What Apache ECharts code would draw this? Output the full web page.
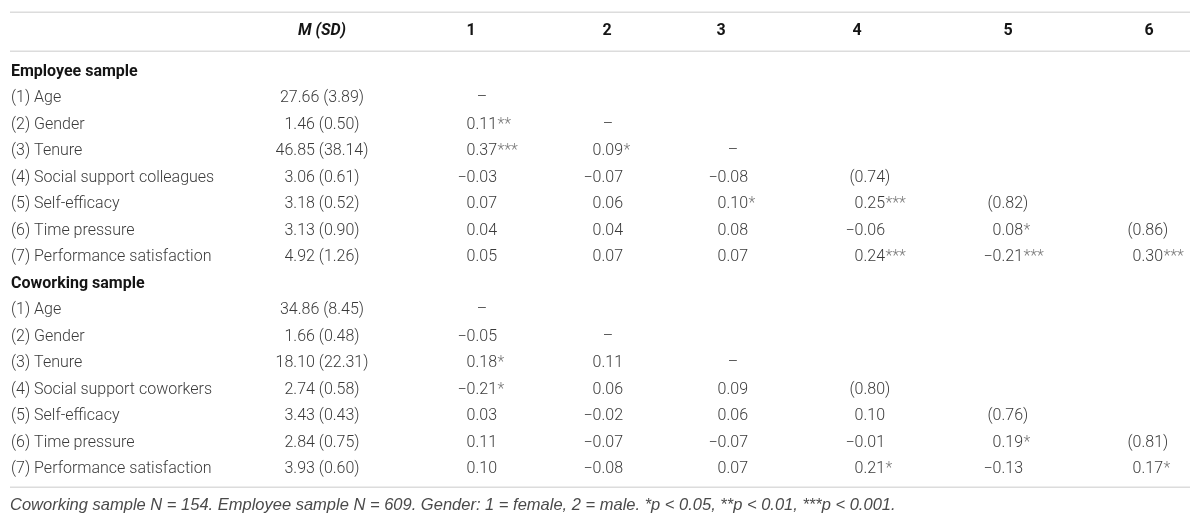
<!DOCTYPE html>
<html>
<head>
<meta charset="utf-8">
<script src="https://cdn.jsdelivr.net/npm/echarts@6/dist/echarts.min.js"></script>
<style>
html, body { margin: 0; padding: 0; background: #fff; }
#main { width: 1200px; height: 523px; }
</style>
</head>
<body>
<div id="main"></div>
<script>
var headers = ['M (SD)', '1', '2', '3', '4', '5', '6'];

var employeeLabels = ['(1) Age', '(2) Gender', '(3) Tenure', '(4) Social support colleagues', '(5) Self-efficacy', '(6) Time pressure', '(7) Performance satisfaction'];
var employeeMeans = [27.66, 1.46, 46.85, 3.06, 3.18, 3.13, 4.92];
var employeeSDs = [3.89, 0.50, 38.14, 0.61, 0.52, 0.90, 1.26];
var employeeCorr = [
    ['–'],
    ['0.11**', '–'],
    ['0.37***', '0.09*', '–'],
    ['−0.03', '−0.07', '−0.08', '(0.74)'],
    ['0.07', '0.06', '0.10*', '0.25***', '(0.82)'],
    ['0.04', '0.04', '0.08', '−0.06', '0.08*', '(0.86)'],
    ['0.05', '0.07', '0.07', '0.24***', '−0.21***', '0.30***']
];

var coworkingLabels = ['(1) Age', '(2) Gender', '(3) Tenure', '(4) Social support coworkers', '(5) Self-efficacy', '(6) Time pressure', '(7) Performance satisfaction'];
var coworkingMeans = [34.86, 1.66, 18.10, 2.74, 3.43, 2.84, 3.93];
var coworkingSDs = [8.45, 0.48, 22.31, 0.58, 0.43, 0.75, 0.60];
var coworkingCorr = [
    ['–'],
    ['−0.05', '–'],
    ['0.18*', '0.11', '–'],
    ['−0.21*', '0.06', '0.09', '(0.80)'],
    ['0.03', '−0.02', '0.06', '0.10', '(0.76)'],
    ['0.11', '−0.07', '−0.07', '−0.01', '0.19*', '(0.81)'],
    ['0.10', '−0.08', '0.07', '0.21*', '−0.13', '0.17*']
];

var footnote = 'Coworking sample N = 154. Employee sample N = 609. Gender: 1 = female, 2 = male. *p < 0.05, **p < 0.01, ***p < 0.001.';

// layout
var FONT = 'Roboto, "Liberation Sans", sans-serif';
var TEXT = '#3a3a3a';
var LINE = '#dcdcdc';
var colX = [11, 322, 497, 623, 748, 885, 1023, 1163];   // label left, mean centre, decimal edges
var headerX = [322, 471, 607, 721, 857, 1008, 1149];

var rowKeys = [];
var cells = [];
function addSection(title, labels, means, sds, corr) {
    var r = rowKeys.length;
    rowKeys.push(title);
    cells.push({ value: [colX[0], r], text: title, kind: 'section' });
    labels.forEach(function (lab, i) {
        r = rowKeys.length;
        rowKeys.push(title + ' ' + lab);
        cells.push({ value: [colX[0], r], text: lab, kind: 'label' });
        cells.push({ value: [colX[1], r], text: means[i].toFixed(2) + ' (' + sds[i].toFixed(2) + ')', kind: 'mean' });
        corr[i].forEach(function (t, j) {
            cells.push({ value: [colX[j + 2], r], text: t, kind: 'corr' });
        });
    });
}
addSection('Employee sample', employeeLabels, employeeMeans, employeeSDs, employeeCorr);
addSection('Coworking sample', coworkingLabels, coworkingMeans, coworkingSDs, coworkingCorr);

function txt(x, y, text, align, font, fill) {
    return {
        type: 'text', x: x, y: y,
        style: { text: text, align: align, verticalAlign: 'middle', font: font, fill: fill || TEXT }
    };
}

function renderCell(params, api) {
    var cell = cells[params.dataIndex];
    var p = api.coord([api.value(0), api.value(1)]);
    var f = '300 16px ' + FONT;
    if (cell.kind === 'section') return txt(p[0], p[1], cell.text, 'left', 'bold 16px ' + FONT, '#151515');
    if (cell.kind === 'label') return txt(p[0], p[1], cell.text, 'left', f);
    if (cell.kind === 'mean') return txt(p[0], p[1], cell.text, 'center', f);
    if (cell.text === '–') return txt(p[0] - 15, p[1], cell.text, 'center', f);
    var m = cell.text.match(/^(.*\d)(\D*)$/);
    var suffix = m[2];
    var isStar = suffix.indexOf('*') >= 0;
    return {
        type: 'group',
        children: [
            txt(p[0], p[1], m[1], 'right', f),
            txt(p[0] + (isStar ? 0.5 : 0), p[1], suffix, 'left', f, isStar ? '#7a7a7a' : TEXT)
        ]
    };
}

var chart = echarts.init(document.getElementById('main'));
var graphics = [
    { type: 'rect', shape: { x: 10, y: 11.5, width: 1180, height: 1.5 }, style: { fill: LINE } },
    { type: 'rect', shape: { x: 10, y: 50.5, width: 1180, height: 1.5 }, style: { fill: LINE } },
    { type: 'rect', shape: { x: 10, y: 486.5, width: 1180, height: 1.5 }, style: { fill: LINE } },
    {
        type: 'text', x: 10, y: 505,
        style: {
            text: footnote, verticalAlign: 'middle', fill: '#4a4a4a',
            font: 'italic 16.5px "Liberation Sans", Arial, sans-serif'
        }
    }
];
headers.forEach(function (h, i) {
    graphics.push({
        type: 'text', x: headerX[i], y: 31,
        style: {
            text: h, align: 'center', verticalAlign: 'middle', fill: '#151515',
            font: (i === 0 ? 'italic ' : '') + 'bold 16px ' + FONT
        }
    });
});

chart.setOption({
    animation: false,
    grid: { left: 0, right: 0, top: 58.5, bottom: 40.5 },
    xAxis: { type: 'value', min: 0, max: 1200, show: false },
    yAxis: { type: 'category', data: rowKeys, inverse: true, show: false },
    graphic: graphics,
    series: [{
        type: 'custom',
        coordinateSystem: 'cartesian2d',
        renderItem: renderCell,
        data: cells,
        silent: true
    }]
});
</script>
</body>
</html>
